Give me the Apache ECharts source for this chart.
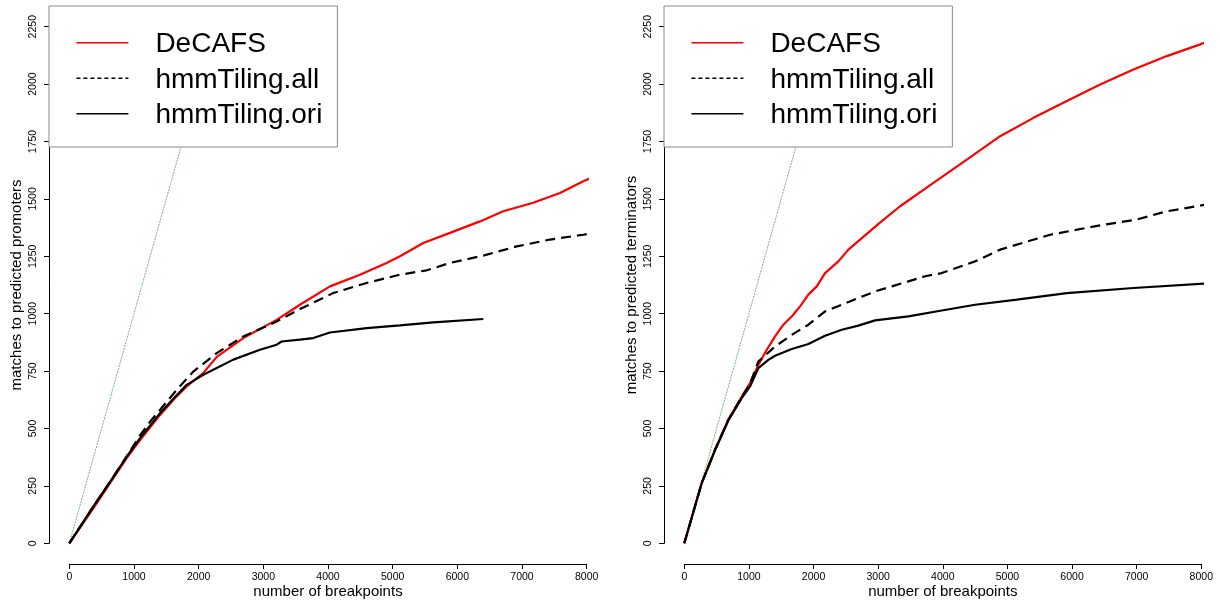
<!DOCTYPE html>
<html><head><meta charset="utf-8">
<script src="https://cdn.jsdelivr.net/npm/echarts@6/dist/echarts.min.js"></script>
<style>html,body{margin:0;padding:0;background:#fff}#c{width:1220px;height:601px}</style>
</head><body><div id="c"></div>
<script>
// ---- data ----
const xTicks = [0, 1000, 2000, 3000, 4000, 5000, 6000, 7000, 8000];
const yTicks = [0, 250, 500, 750, 1000, 1250, 1500, 1750, 2000, 2250];
const seriesNames = ['DeCAFS', 'hmmTiling.all', 'hmmTiling.ori'];
const xTitle = 'number of breakpoints';
const yTitles = ['matches to predicted promoters', 'matches to predicted terminators'];
// reference line y = x (from origin to top of plot region)
const identityLine = [[0, 0], [2340, 2340]];

// left panel: promoters
const promDeCAFS = [[0,0],[370,152],[630,262],[890,372],[1100,452],[1400,558],[1660,640],[1815,683],[2070,741],[2280,812],[2690,894],[3200,972],[3566,1039],[4030,1119],[4494,1170],[4906,1221],[5113,1250],[5473,1308],[5886,1352],[6350,1402],[6710,1446],[7174,1483],[7587,1526],[7947,1577],[8309,1620]];
const promAll = [[0,0],[370,160],[630,268],[890,380],[1093,470],[1250,530],[1402,581],[1660,668],[1917,748],[2279,828],[2690,901],[3206,966],[3566,1020],[4082,1090],[4598,1134],[5113,1170],[5526,1189],[5886,1221],[6401,1253],[6917,1293],[7432,1323],[7947,1344],[8309,1363]];
const promOri = [[0,0],[370,160],[630,268],[890,378],[1100,460],[1400,566],[1660,645],[1815,690],[2072,734],[2536,800],[2948,843],[3206,865],[3283,879],[3566,887],[3773,894],[4030,918],[4598,937],[5113,949],[5628,962],[6401,977]];

// right panel: terminators
const termDeCAFS = [[0,0],[269,262],[475,407],[681,538],[889,639],[1017,698],[1146,777],[1276,843],[1404,901],[1533,952],[1663,988],[1791,1032],[1920,1083],[2050,1119],[2178,1177],[2384,1228],[2539,1279],[3000,1390],[3339,1468],[3855,1570],[4372,1671],[4887,1773],[5403,1853],[5920,1926],[6435,1998],[6950,2064],[7467,2122],[7983,2173],[8241,2202],[8290,2206]];
const termAll = [[0,0],[269,262],[475,407],[681,538],[889,636],[1017,695],[1146,792],[1404,857],[1663,908],[1920,952],[2178,1010],[2437,1039],[2693,1068],[2952,1097],[3210,1119],[3467,1141],[3726,1163],[3984,1177],[4500,1228],[4887,1279],[5661,1344],[6435,1385],[7000,1410],[7467,1446],[8241,1483],[8290,1485]];
const termOri = [[0,0],[269,262],[475,405],[681,535],[889,632],[1017,683],[1146,763],[1300,799],[1404,817],[1663,846],[1920,868],[2178,904],[2437,930],[2693,948],[2952,971],[3467,988],[3984,1014],[4500,1039],[5146,1061],[5920,1090],[6950,1112],[8241,1134],[8290,1135]];

// ---- chart ----
const FONT = "'Liberation Sans', Arial, sans-serif";
const chart = echarts.init(document.getElementById('c'), null, {renderer: 'canvas'});

const gridTop = 26.7, gridHeight = 516.6;
const grids = [
  {left: 69.3, top: gridTop, width: 517.4, height: gridHeight, containLabel: false, outerBoundsMode: 'none'},
  {left: 684.3, top: gridTop, width: 517, height: gridHeight, containLabel: false, outerBoundsMode: 'none'}
];

function xAxis(i) {
  return {
    type: 'value', gridIndex: i,
    min: xTicks[0], max: xTicks[xTicks.length - 1], interval: xTicks[1] - xTicks[0],
    offset: 20.7,
    name: xTitle, nameLocation: 'middle', nameGap: 20, nameMoveOverlap: false,
    nameTextStyle: {fontSize: 15, fontFamily: FONT, color: '#000'},
    axisLine: {show: true, onZero: false, lineStyle: {color: '#000', width: 1}},
    axisTick: {show: true, length: 5, lineStyle: {color: '#000', width: 1}},
    axisLabel: {fontSize: 10.5, fontFamily: FONT, color: '#000', margin: 8, formatter: v => String(v)},
    splitLine: {show: false}
  };
}
function yAxis(i) {
  return {
    type: 'value', gridIndex: i,
    min: yTicks[0], max: yTicks[yTicks.length - 1], interval: yTicks[1] - yTicks[0],
    offset: 20.3,
    name: yTitles[i], nameLocation: 'middle', nameGap: 25, nameMoveOverlap: false,
    nameTextStyle: {fontSize: 15, fontFamily: FONT, color: '#000'},
    axisLine: {show: true, onZero: false, lineStyle: {color: '#000', width: 1}},
    axisTick: {show: true, length: 5, lineStyle: {color: '#000', width: 1}},
    axisLabel: {fontSize: 10.5, fontFamily: FONT, color: '#000', margin: 10, rotate: 90, formatter: v => String(v)},
    splitLine: {show: false}
  };
}
function legend(left) {
  return {
    left: left, top: 6, orient: 'vertical',
    padding: [21, 15, 17.5, 26.7], itemGap: 4, itemWidth: 52, itemHeight: 2,
    backgroundColor: '#fff', borderColor: '#8a8a8a', borderWidth: 1, borderRadius: 0,
    selectedMode: false,
    itemStyle: {color: 'rgba(0,0,0,0)', borderWidth: 0, opacity: 0},
    formatter: n => '{t|' + n + '}',
    textStyle: {
      fontSize: 28, fontFamily: FONT, color: '#000',
      rich: {t: {fontSize: 28, fontFamily: FONT, color: '#000', lineHeight: 32, padding: [3.5, 0, 0, 22]}}
    },
    data: [
      {name: seriesNames[0], lineStyle: {width: 1.4}},
      {name: seriesNames[1], lineStyle: {width: 1.3, type: [4, 3]}},
      {name: seriesNames[2], lineStyle: {width: 1.4}}
    ]
  };
}
function panelSeries(i, dec, all, ori) {
  const base = {type: 'line', xAxisIndex: i, yAxisIndex: i, symbol: 'none', showSymbol: false, clip: false, animation: false, silent: true};
  return [
    Object.assign({}, base, {name: 'identity', data: identityLine, lineStyle: {color: '#3f8f3f', width: 0.7, type: [2, 1]}, z: 1}),
    Object.assign({}, base, {name: seriesNames[0], data: dec, color: '#ff0000', lineStyle: {color: '#ff0000', width: 2.2}, z: 2}),
    Object.assign({}, base, {name: seriesNames[1], data: all, color: '#000', lineStyle: {color: '#000', width: 2.2, type: [10, 6]}, z: 3}),
    Object.assign({}, base, {name: seriesNames[2], data: ori, color: '#000', lineStyle: {color: '#000', width: 2.2}, z: 4})
  ];
}

chart.setOption({
  backgroundColor: '#fff',
  animation: false,
  grid: grids,
  xAxis: [xAxis(0), xAxis(1)],
  yAxis: [yAxis(0), yAxis(1)],
  legend: [legend(49), legend(664)],
  series: [].concat(
    panelSeries(0, promDeCAFS, promAll, promOri),
    panelSeries(1, termDeCAFS, termAll, termOri)
  )
});
</script>
</body></html>
